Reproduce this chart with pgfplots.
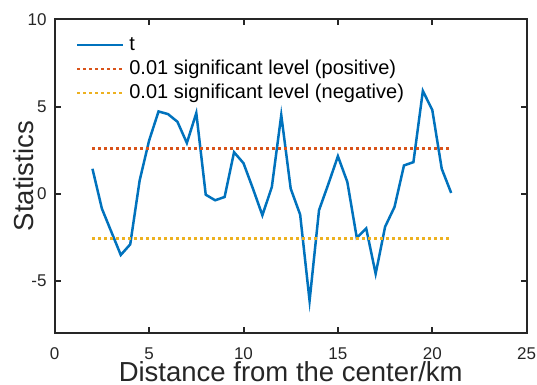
\documentclass[border=0pt]{standalone}
\usepackage{fontspec}
\setmainfont{Liberation Sans}
\usepackage{pgfplots}
\pgfplotsset{compat=1.18}
\definecolor{mblue}{rgb}{0,0.447,0.741}
\definecolor{morange}{rgb}{0.85,0.325,0.098}
\definecolor{myellow}{rgb}{0.929,0.694,0.125}
\definecolor{axgray}{rgb}{0.15,0.15,0.15}
\begin{document}
\begin{tikzpicture}
\begin{axis}[
  scale only axis, width=472bp, height=313.5bp,
  xmin=0, xmax=25, ymin=-8, ymax=10,
  xtick={0,5,10,15,20,25}, ytick={-5,0,5,10},
  tick align=inside, major tick length=6bp,
  axis line style={axgray, line width=2bp},
  every tick/.style={axgray, line width=2bp},
  tick label style={font=\fontsize{17bp}{20bp}\selectfont, text=axgray, inner sep=0pt},
  /pgf/number format/assume math mode=true,
  xticklabel style={anchor=base, yshift=-26.5bp},
  yticklabel style={anchor=east, xshift=-8bp},
  xlabel={Distance from the center/km}, ylabel={Statistics},
  label style={font=\fontsize{27.5bp}{32bp}\selectfont, text=axgray, inner sep=0pt},
  xlabel style={at={(axis description cs:0.5,-0.1563)}, anchor=base},
  ylabel style={at={(axis description cs:-0.04597,0.5)}, anchor=base},
  legend cell align=left,
  legend style={draw=none, fill=none, at={(axis description cs:0.0381,0.954)}, anchor=north west,
    font=\fontsize{20bp}{22bp}\selectfont, row sep=6bp, column sep=5bp,
    nodes={inner sep=0pt, text height=14bp, text depth=4bp}},
  legend image code/.code={\draw[#1] (0bp,0bp) -- (46bp,0bp);},
]
\addplot[mblue, line width=2.5bp] coordinates {
(2,1.43) (2.5,-0.86) (3,-2.19) (3.5,-3.52) (4,-2.91) (4.5,0.76) (5,3.05) (5.5,4.72)
(6,4.57) (6.5,4.13) (7,2.91) (7.5,4.63) (8,-0.06) (8.5,-0.38) (9,-0.19) (9.5,2.38)
(10,1.75) (10.5,0.29) (11,-1.24) (11.5,0.38) (12,4.51) (12.5,0.29) (13,-1.2) (13.5,-6.15)
(14,-0.95) (14.5,0.57) (15,2.15) (15.5,0.67) (16,-2.53) (16.5,-2.0) (17,-4.6) (17.5,-1.9)
(18,-0.76) (18.5,1.62) (19,1.81) (19.5,5.9) (20,4.8) (20.5,1.43) (21,0.04)
};
\addlegendentry{t}
\addplot[morange, line width=2.5bp, dash pattern=on 2.5bp off 3.5bp] coordinates {(2,2.58) (21,2.58)};
\addlegendentry{0.01 significant level (positive)}
\addplot[myellow, line width=2.5bp, dash pattern=on 2.5bp off 3.5bp] coordinates {(2,-2.58) (21,-2.58)};
\addlegendentry{0.01 significant level (negative)}
\end{axis}
\pgfresetboundingbox
\path ([shift={(-54.7bp,-52bp)}]current axis.south west) rectangle ([shift={(10.3bp,19.5bp)}]current axis.north east);
\end{tikzpicture}
\end{document}
